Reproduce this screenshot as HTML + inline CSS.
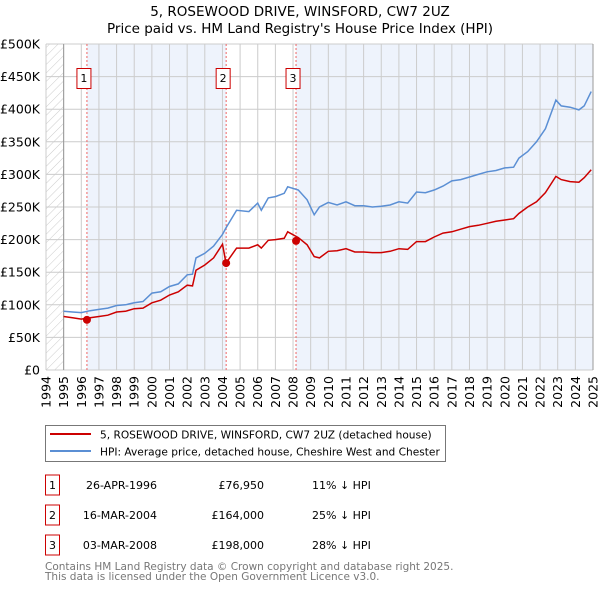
<!DOCTYPE html>
<html><head><meta charset="utf-8"><style>
body{margin:0;background:#fff;width:600px;height:590px;overflow:hidden;font-family:"DejaVu Sans","Liberation Sans",sans-serif;}
svg{position:absolute;left:0;top:0}
text{font-family:"DejaVu Sans","Liberation Sans",sans-serif;}
</style></head><body>
<svg id="chart" width="600" height="590" xmlns="http://www.w3.org/2000/svg">
<defs><pattern id="hatch" width="6" height="6" patternUnits="userSpaceOnUse" patternTransform="rotate(45)"><line x1="0" y1="0" x2="0" y2="6" stroke="#ccc" stroke-width="1"/></pattern></defs>
<text x="300" y="16" text-anchor="middle" font-size="13.5" fill="#000">5, ROSEWOOD DRIVE, WINSFORD, CW7 2UZ</text>
<text x="300" y="33" text-anchor="middle" font-size="13.5" fill="#000">Price paid vs. HM Land Registry's House Price Index (HPI)</text>
<g id="plot"></g>
<g>
<rect x="45.5" y="425.5" width="400" height="36" fill="#fff" stroke="#777"/>
<line x1="50" y1="434" x2="91" y2="434" stroke="#cc0000" stroke-width="2"/>
<text x="100" y="438.5" font-size="10.6">5, ROSEWOOD DRIVE, WINSFORD, CW7 2UZ (detached house)</text>
<line x1="50" y1="451" x2="91" y2="451" stroke="#5b8fd4" stroke-width="2"/>
<text x="100" y="455.5" font-size="10.6">HPI: Average price, detached house, Cheshire West and Chester</text>
</g>
<g id="table" font-size="11"></g>
<text x="45" y="570" font-size="10.5" fill="#777">Contains HM Land Registry data © Crown copyright and database right 2025.</text>
<text x="45" y="580" font-size="10.5" fill="#777">This data is licensed under the Open Government Licence v3.0.</text>
</svg>
<script>
const hpiDates=[1995,1995.5,1996,1996.5,1997,1997.5,1998,1998.5,1999,1999.5,2000,2000.5,2001,2001.5,2002,2002.3,2002.5,2003,2003.5,2004,2004.2,2004.8,2005.5,2006,2006.2,2006.6,2007,2007.5,2007.7,2008.3,2008.8,2009.2,2009.5,2010,2010.5,2011,2011.5,2012,2012.5,2013,2013.5,2014,2014.5,2015,2015.5,2016,2016.5,2017,2017.5,2018,2018.5,2019,2019.5,2020,2020.5,2020.8,2021.3,2021.8,2022.3,2022.9,2023.2,2023.7,2024.2,2024.5,2024.9];
const hpiValues=[90,89,88,91,93,95,99,100,103,105,118,120,128,132,146,147,172,179,190,208,218,245,243,256,245,264,266,271,281,276,261,238,250,257,253,258,252,252,250,251,253,258,256,273,272,276,282,290,292,296,300,304,306,310,311,325,335,350,370,414,405,403,399,405,427];
const propDates=hpiDates;
const propValues=[82,80,78,80,82,84,89,90,94,95,103,107,115,120,130,129,153,161,172,193,164,187,187,192,187,199,200,202,212,203,192,174,172,182,183,186,181,181,180,180,182,186,185,197,197,204,210,212,216,220,222,225,228,230,232,240,250,258,272,297,292,289,288,295,307];
const saleDates=[1996.32,2004.21,2008.17];
const salePrices=[76950,164000,198000];
const saleLabels=["1","2","3"];
const saleDateText=["26-APR-1996","16-MAR-2004","03-MAR-2008"];
const salePriceText=["£76,950","£164,000","£198,000"];
const saleHpiText=["11% ↓ HPI","25% ↓ HPI","28% ↓ HPI"];
const yTicks=[0,50,100,150,200,250,300,350,400,450,500];
const yTickLabels=["£0","£50K","£100K","£150K","£200K","£250K","£300K","£350K","£400K","£450K","£500K"];
const xYears=[1994,1995,1996,1997,1998,1999,2000,2001,2002,2003,2004,2005,2006,2007,2008,2009,2010,2011,2012,2013,2014,2015,2016,2017,2018,2019,2020,2021,2022,2023,2024,2025];

const X0=46,X1=593,Y0=370,Y1=44;
const xs=y=>X0+(y-1994)/(2025-1994)*(X1-X0);
const ys=v=>Y0-v/500*(Y0-Y1);
const NS="http://www.w3.org/2000/svg";
const plot=document.getElementById('plot');
function mk(tag,attrs,parent){const e=document.createElementNS(NS,tag);for(const k in attrs)e.setAttribute(k,attrs[k]);(parent||plot).appendChild(e);return e;}
let r;
r=mk('rect',{x:X0,y:Y1,width:X1-X0,height:Y0-Y1,fill:'#fff'});


r=mk('rect',{x:xs(saleDates[0]),y:Y1,width:xs(saleDates[1])-xs(saleDates[0]),height:Y0-Y1,fill:'#eef3fc'});


r=mk('rect',{x:xs(saleDates[2]),y:Y1,width:X1-xs(saleDates[2]),height:Y0-Y1,fill:'#eef3fc'});


r=mk('rect',{x:X0,y:Y1,width:xs(1995)-X0,height:Y0-Y1,fill:'url(#hatch)'});


yTicks.forEach((v,i)=>{
 let l=mk('line',{x1:X0,x2:X1,y1:ys(v),y2:ys(v),stroke:'#ccc','stroke-width':1});
 
 
 let t=mk('text',{x:X0-6,y:ys(v)+4.5,'text-anchor':'end','font-size':12.5,fill:'#000'});
 t.textContent=yTickLabels[i];
 
 
});
xYears.forEach(y=>{
 let l=mk('line',{x1:xs(y),x2:xs(y),y1:Y1,y2:Y0,stroke:'#ccc','stroke-width':1});
 
 
 let t=mk('text',{x:0,y:0,'text-anchor':'end','font-size':12.5,fill:'#000',transform:`translate(${xs(y)+4.5},${Y0+6}) rotate(-90)`});
 t.textContent=y;
 
 
});
r=mk('line',{x1:xs(1995),x2:xs(1995),y1:Y1,y2:Y0,stroke:'#999'});


r=mk('line',{x1:X1,x2:X1,y1:Y1,y2:Y0,stroke:'#999'});


saleDates.forEach((d,i)=>{
 let l=mk('line',{x1:xs(d),x2:xs(d),y1:Y1,y2:Y0,stroke:'#e66','stroke-width':1,'stroke-dasharray':'2,2'});
 
 
 let b=mk('rect',{x:xs(d)-10,y:68.5,width:14,height:20,fill:'#fff',stroke:'#cc0000'});
 
 
 let t=mk('text',{x:xs(d)-3,y:82,'text-anchor':'middle','font-size':11});
 t.textContent=saleLabels[i];
 
 
});
function path(dates,vals,color,name){
 const d=dates.map((x,i)=>(i?'L':'M')+xs(x).toFixed(1)+','+ys(vals[i]).toFixed(1)).join('');
 const p=mk('path',{d:d,fill:'none',stroke:color,'stroke-width':1.5});
 
 
}
path(hpiDates,hpiValues,'#5b8fd4','hpi-line');
path(propDates,propValues,'#cc0000','property-line');
saleDates.forEach((d,i)=>{
 const c=mk('circle',{cx:xs(d),cy:ys(salePrices[i]/1000),r:4,fill:'#cc0000'});
 
 
});
const tbl=document.getElementById('table');
saleDates.forEach((d,i)=>{
 const cy=485+i*30;
 let b=mk('rect',{x:45.5,y:cy-10,width:14,height:20,fill:'#fff',stroke:'#cc0000'},tbl);
 
 
 let t=mk('text',{x:52.5,y:cy+4,'text-anchor':'middle'},tbl);t.textContent=saleLabels[i];
 
 
 t=mk('text',{x:157,y:cy+4,'text-anchor':'end'},tbl);t.textContent=saleDateText[i];
 
 
 t=mk('text',{x:264,y:cy+4,'text-anchor':'end'},tbl);t.textContent=salePriceText[i];
 
 
 t=mk('text',{x:312,y:cy+4},tbl);t.textContent=saleHpiText[i];
 
 
});
</script>
</body></html>
